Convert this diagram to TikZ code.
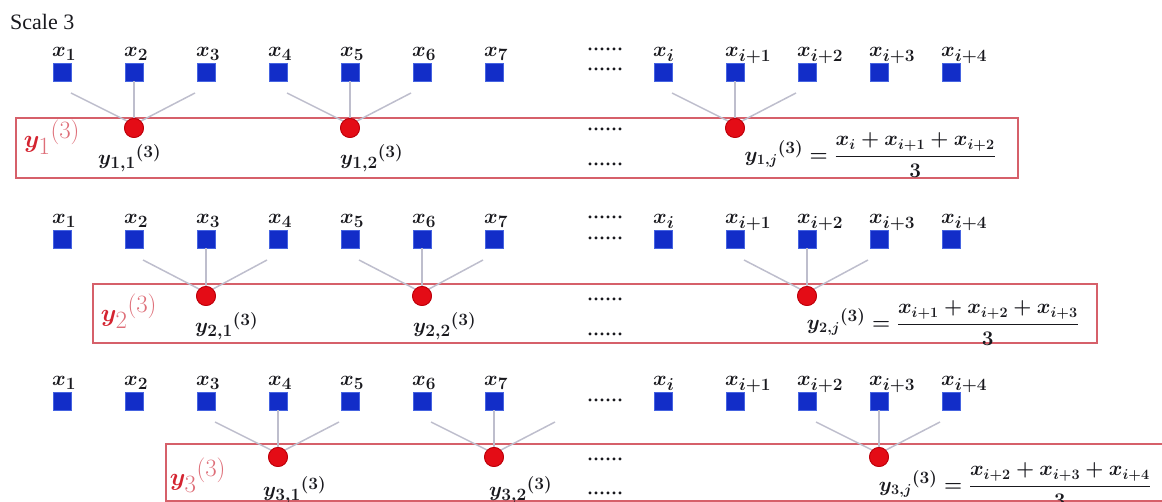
\documentclass[tikz,border=0pt]{standalone}
\usepackage{fontspec}
\usepackage{amsmath,bm}
\usetikzlibrary{calc}
\newfontfamily\timesf{Liberation Serif}
\DeclareMathSizes{21}{21}{17}{13}
\DeclareMathSizes{48}{48}{29}{20}
\newcommand\thr{\mbox{\fontsize{19}{19}\selectfont\boldmath$(3)$}}
\definecolor{sqblue}{RGB}{18,45,200}
\definecolor{sqedge}{RGB}{70,100,225}
\definecolor{dotred}{RGB}{228,12,22}
\definecolor{dotedge}{RGB}{190,0,10}
\definecolor{boxred}{RGB}{214,96,106}
\definecolor{lnk}{RGB}{190,190,205}
\definecolor{bigred}{RGB}{212,36,48}
\definecolor{lightred}{RGB}{222,110,120}
\definecolor{txt}{RGB}{25,25,30}
\tikzset{
 sq/.style={fill=sqblue, draw=sqedge, line width=0.8, minimum size=18, inner sep=0},
 dotn/.style={circle, fill=dotred, draw=dotedge, line width=0.8, minimum size=19, inner sep=0},
 link/.style={draw=lnk, line width=1.5},
 boxst/.style={draw=boxred, line width=1.8, inner sep=0, anchor=north west},
 xlab/.style={font=\fontsize{21}{24}\selectfont\boldmath, inner sep=0, anchor=base west, text=txt},
 ylab/.style={font=\fontsize{21}{24}\selectfont\boldmath, inner sep=0, anchor=west, text=txt},
 fst/.style={font=\fontsize{20}{24}\selectfont\boldmath, inner sep=0, anchor=east, text=txt},
 biglab/.style={font=\fontsize{48}{52}\selectfont, inner sep=0, text=bigred},
 dotsst/.style={font=\fontsize{24}{26}\selectfont\timesf, inner sep=0, text height=5, text depth=0, text=txt},
 titlest/.style={font=\fontsize{22}{26}\selectfont\timesf, inner sep=0, anchor=west, text=txt},
}
\begin{document}
\begin{tikzpicture}[x=1pt,y=-1pt]
\useasboundingbox (0,0) rectangle (1162,502);
\node[titlest] (title) at (10,22) {Scale 3};

% boxes
\node[boxst, minimum width=1002, minimum height=60] (b1) at (15,117) {};
\node[boxst, minimum width=1004, minimum height=59] (b2) at (92,283) {};
\node[boxst, minimum width=1020, minimum height=57] (b3) at (165,443) {};

% squares and x labels
\foreach \r/\sy in {1/72, 2/239, 3/401} {
  \foreach \k/\xx in {1/62, 2/134, 3/206, 4/278, 5/350, 6/422, 7/494} {
    \node[sq] (s\r-\k) at (\xx,\sy) {};
    \node[xlab] (l\r-\k) at (\xx-10,\sy-15) {$x_{\k}$};
  }
  \foreach \k/\xx/\lab in {0/663/i, 1/735/i+1, 2/807/i+2, 3/879/i+3, 4/951/i+4} {
    \node[sq] (s\r-i\k) at (\xx,\sy) {};
    \node[xlab] (l\r-i\k) at (\xx-10,\sy-15) {$x_{\lab}$};
  }
}

% dots
\node[dotsst] (d1a) at (605,48) {......};
\node[dotsst] (d1b) at (605,68) {......};
\node[dotsst] (d1c) at (605,128) {......};
\node[dotsst] (d1d) at (605,163) {......};
\node[dotsst] (d2a) at (605,216) {......};
\node[dotsst] (d2b) at (605,237) {......};
\node[dotsst] (d2c) at (605,298) {......};
\node[dotsst] (d2d) at (605,333) {......};
\node[dotsst] (d3a) at (605,399) {......};
\node[dotsst] (d3c) at (605,458) {......};
\node[dotsst] (d3d) at (605,492) {......};

% circles
\node[dotn] (c1-1) at (134,128) {};
\node[dotn] (c1-2) at (350,128) {};
\node[dotn] (c1-j) at (735,128) {};
\node[dotn] (c2-1) at (206,296) {};
\node[dotn] (c2-2) at (422,296) {};
\node[dotn] (c2-j) at (807,296) {};
\node[dotn] (c3-1) at (278,457) {};
\node[dotn] (c3-2) at (494,457) {};
\node[dotn] (c3-j) at (879,457) {};

% connectors
\coordinate (s3-8) at (566,401);
\foreach \r/\L/\M/\R/\c in {1/1/2/3/1, 1/4/5/6/2, 1/i0/i1/i2/j,
                            2/2/3/4/1, 2/5/6/7/2, 2/i1/i2/i3/j,
                            3/3/4/5/1, 3/6/7/8/2, 3/i2/i3/i4/j} {
  \coordinate (pl\r-\c) at ($(s\r-\L)+(9,21)$);
  \coordinate (pr\r-\c) at ($(s\r-\R)+(-11,21)$);
  \draw[link] (pl\r-\c) -- (c\r-\c.north west);
  \draw[link] (pr\r-\c) -- (c\r-\c.north east);
  \draw[link] (s\r-\M.south) -- (c\r-\c.north);
}
\foreach \n in {c1-1,c1-2,c1-j,c2-1,c2-2,c2-j,c3-1,c3-2,c3-j}{
  \node[dotn] at (\n) {};
}

% big labels
\node[biglab] (Y1) at (52,137) {$\boldsymbol{y}_{\color{lightred}1}^{\color{lightred}(3)}$};
\node[biglab] (Y2) at (129,311) {$\boldsymbol{y}_{\color{lightred}2}^{\color{lightred}(3)}$};
\node[biglab] (Y3) at (198,475) {$\boldsymbol{y}_{\color{lightred}3}^{\color{lightred}(3)}$};

% y labels
\node[ylab] (y11) at (98,158) {${y_{1,1}}^{\thr}$};
\node[ylab] (y12) at (340,158) {${y_{1,2}}^{\thr}$};
\node[ylab] (y21) at (195,326) {${y_{2,1}}^{\thr}$};
\node[ylab] (y22) at (413,326) {${y_{2,2}}^{\thr}$};
\node[ylab] (y31) at (263,490) {${y_{3,1}}^{\thr}$};
\node[ylab] (y32) at (489,490) {${y_{3,2}}^{\thr}$};

% formulas
\node[fst] (f1) at (996,155) {${y_{1,j}}^{\thr} = \dfrac{x_i + x_{i+1} + x_{i+2}}{3}$};
\node[fst] (f2) at (1079,323) {${y_{2,j}}^{\thr} = \dfrac{x_{i+1} + x_{i+2} + x_{i+3}}{3}$};
\node[fst] (f3) at (1151,485) {${y_{3,j}}^{\thr} = \dfrac{x_{i+2} + x_{i+3} + x_{i+4}}{3}$};
\end{tikzpicture}
\end{document}
